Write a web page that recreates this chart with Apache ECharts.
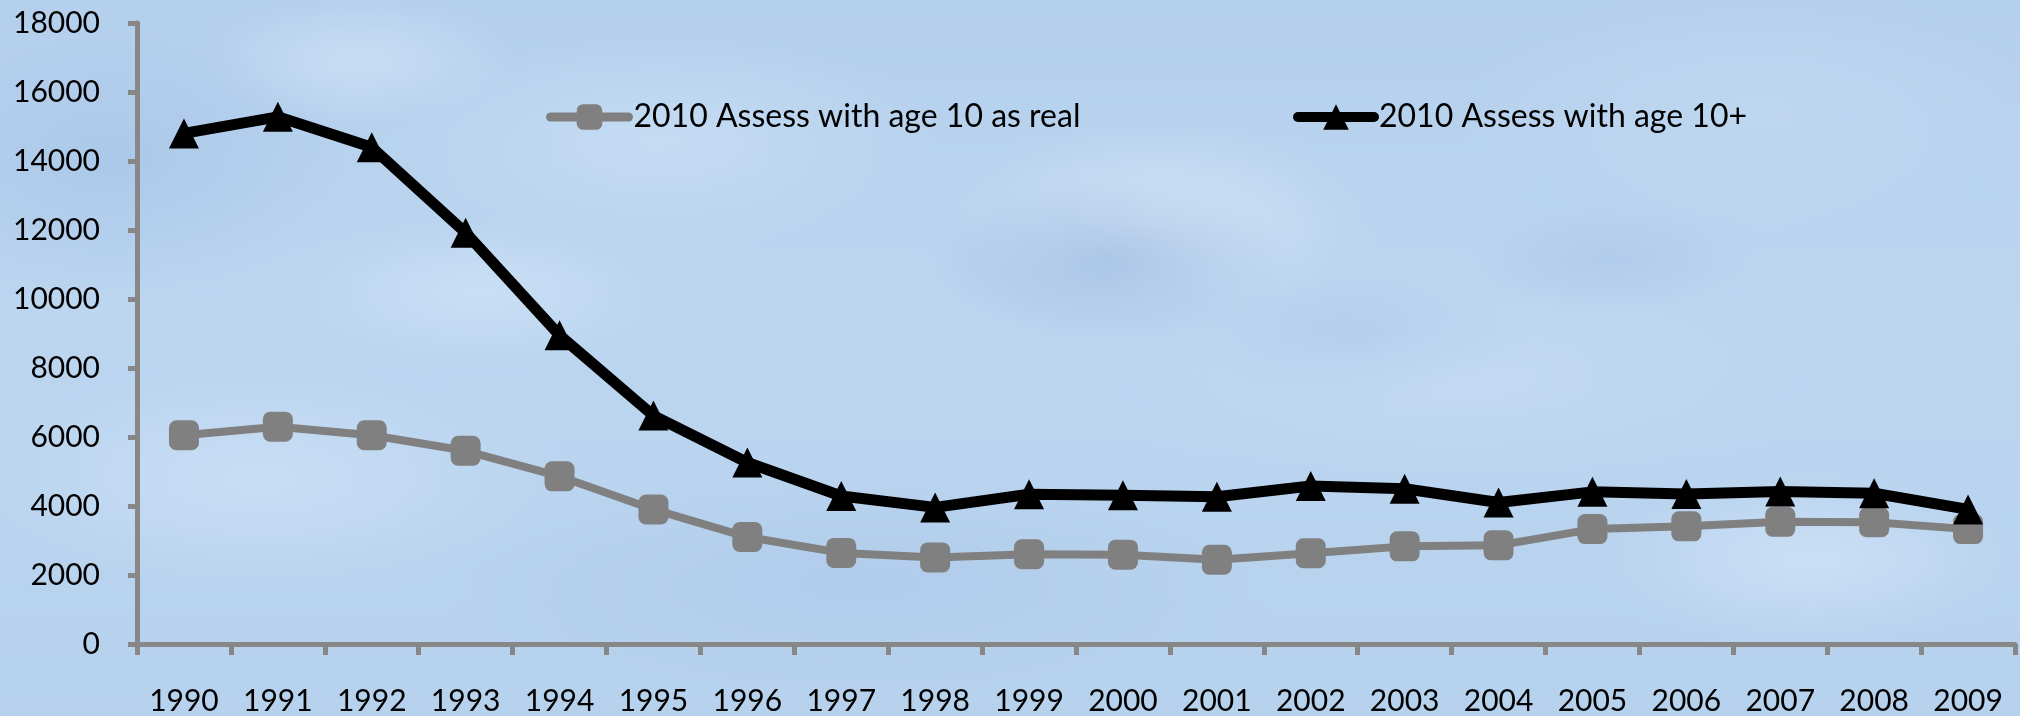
<!DOCTYPE html>
<html>
<head>
<meta charset="utf-8">
<script src="https://cdn.jsdelivr.net/npm/echarts@6/dist/echarts.min.js"></script>
<style>
  html, body { margin: 0; padding: 0; }
  body { width: 2020px; height: 716px; overflow: hidden; position: relative; background: #b8d3ee; }
  #sky {
    position: absolute; left: -40px; top: -40px; width: 2100px; height: 796px;
    background:
      radial-gradient(ellipse 260px 120px at 1150px 300px, rgba(150,180,220,0.55), rgba(150,180,220,0) 70%),
      radial-gradient(ellipse 300px 140px at 1200px 260px, rgba(225,238,250,0.55), rgba(225,238,250,0) 70%),
      radial-gradient(ellipse 420px 160px at 300px 520px, rgba(210,228,248,0.6), rgba(210,228,248,0) 70%),
      radial-gradient(ellipse 500px 140px at 1500px 420px, rgba(200,222,244,0.55), rgba(200,222,244,0) 70%),
      radial-gradient(ellipse 380px 150px at 700px 180px, rgba(205,226,246,0.6), rgba(205,226,246,0) 70%),
      radial-gradient(ellipse 350px 200px at 150px 200px, rgba(160,190,228,0.5), rgba(160,190,228,0) 70%),
      radial-gradient(ellipse 420px 180px at 1800px 150px, rgba(195,218,242,0.6), rgba(195,218,242,0) 70%),
      radial-gradient(ellipse 600px 160px at 900px 620px, rgba(170,198,232,0.5), rgba(170,198,232,0) 70%),
      radial-gradient(ellipse 300px 120px at 1850px 600px, rgba(215,232,250,0.6), rgba(215,232,250,0) 70%),
      radial-gradient(ellipse 240px 90px at 1400px 380px, rgba(160,188,226,0.45), rgba(160,188,226,0) 70%),
      radial-gradient(ellipse 260px 100px at 520px 330px, rgba(215,232,250,0.5), rgba(215,232,250,0) 70%),
      radial-gradient(ellipse 200px 80px at 1650px 300px, rgba(165,192,228,0.45), rgba(165,192,228,0) 70%),
      radial-gradient(ellipse 220px 90px at 400px 100px, rgba(218,234,250,0.5), rgba(218,234,250,0) 70%),
      linear-gradient(180deg, #b4cfec 0%, #bcd6f0 45%, #b6d1ed 100%);
    filter: blur(6px);
  }
  #chart { position: absolute; left: 0; top: 0; width: 2020px; height: 716px; }
</style>
</head>
<body>
<div id="sky"></div>
<div id="chart"></div>
<script>
// Years on the category axis
const years = ['1990','1991','1992','1993','1994','1995','1996','1997','1998','1999',
               '2000','2001','2002','2003','2004','2005','2006','2007','2008','2009'];

// Series names
const nameReal = '2010 Assess with age 10 as real';
const namePlus = '2010 Assess with age 10+';

// Series values
const assessAge10Real = [6050, 6300, 6050, 5600, 4860, 3900, 3100, 2640, 2510, 2600,
                         2590, 2440, 2630, 2830, 2860, 3330, 3410, 3540, 3530, 3330];
const assessAge10Plus = [14800, 15280, 14400, 11920, 8950, 6620, 5260, 4290, 3960, 4340,
                         4310, 4270, 4580, 4500, 4100, 4410, 4350, 4420, 4370, 3900];

// Value axis range
const yMin = 0;
const yMax = 18000;
const yStep = 2000;

const FONT = 'Lato, "Noto Sans", sans-serif';
const AXIS_GRAY = '#878787';
const GRAY = '#808080';
const BLACK = '#000000';

const chart = echarts.init(document.getElementById('chart'), null, { renderer: 'canvas' });

chart.setOption({
  backgroundColor: 'transparent',
  animation: false,
  grid: { left: 137, right: 5, top: 23, bottom: 71, containLabel: false },
  legend: [
    {
      data: [nameReal],
      left: 541, top: 96,
      itemWidth: 78, itemHeight: 32, itemGap: 6,
      lineStyle: { width: 9, color: GRAY, cap: 'round' },
      textStyle: { fontFamily: FONT, fontSize: 32, color: '#000' }
    },
    {
      data: [namePlus],
      left: 1288, top: 96,
      itemWidth: 76, itemHeight: 32, itemGap: 6,
      lineStyle: { width: 10, color: BLACK, cap: 'round' },
      textStyle: { fontFamily: FONT, fontSize: 32, color: '#000' }
    }
  ],
  xAxis: {
    type: 'category',
    data: years,
    boundaryGap: true,
    axisLine: { lineStyle: { color: AXIS_GRAY, width: 5 } },
    axisTick: { show: true, length: 11, lineStyle: { color: AXIS_GRAY, width: 5 } },
    axisLabel: { fontFamily: FONT, fontSize: 30, color: '#000', margin: 42, interval: 0 },
    splitLine: { show: false }
  },
  yAxis: {
    type: 'value',
    min: yMin, max: yMax, interval: yStep,
    axisLine: { show: true, lineStyle: { color: AXIS_GRAY, width: 5 } },
    axisTick: { show: true, length: 9, lineStyle: { color: AXIS_GRAY, width: 5 } },
    axisLabel: {
      fontFamily: FONT, fontSize: 30, color: '#000', margin: 37,
      formatter: function (v) { return String(v); }
    },
    splitLine: { show: false }
  },
  series: [
    {
      name: nameReal,
      type: 'line',
      data: assessAge10Real,
      symbol: 'roundRect',
      symbolSize: 30,
      color: GRAY,
      lineStyle: { color: GRAY, width: 8 },
      itemStyle: { color: GRAY },
      z: 2
    },
    {
      name: namePlus,
      type: 'line',
      data: assessAge10Plus,
      symbol: 'triangle',
      symbolSize: [30, 30],
      color: BLACK,
      lineStyle: { color: BLACK, width: 11 },
      itemStyle: { color: BLACK },
      z: 3
    }
  ]
});
</script>
</body>
</html>
